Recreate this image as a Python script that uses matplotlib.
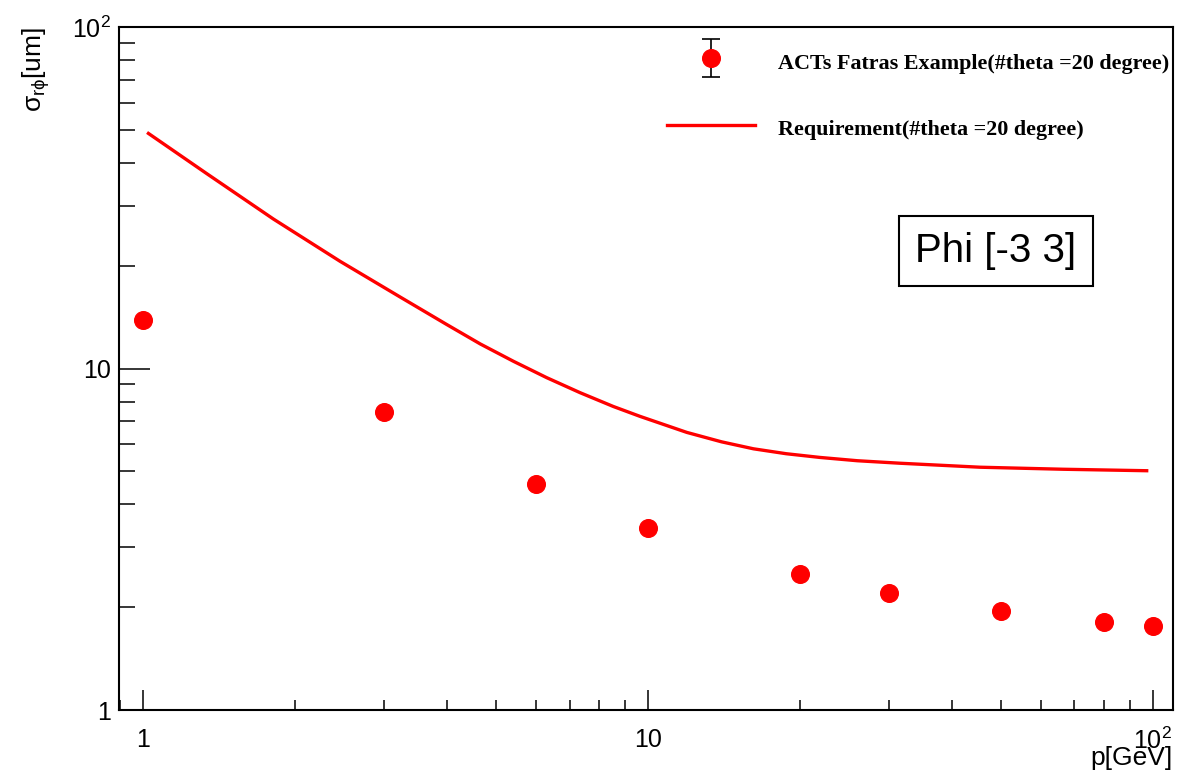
import matplotlib
matplotlib.use("Agg")
import matplotlib.pyplot as plt
from matplotlib.ticker import FixedLocator, NullFormatter
from matplotlib.legend_handler import HandlerErrorbar

plt.rcParams['font.family'] = ['Liberation Sans', 'DejaVu Sans']
plt.rcParams['mathtext.fontset'] = 'custom'
plt.rcParams['mathtext.rm'] = 'Liberation Sans'
plt.rcParams['mathtext.it'] = 'Liberation Sans'
plt.rcParams['mathtext.bf'] = 'Liberation Sans:bold'

# measured resolution vs momentum
p_meas = [1, 3, 6, 10, 20, 30, 50, 80, 100]
sigma_meas = [13.9, 7.44, 4.59, 3.42, 2.51, 2.20, 1.95, 1.81, 1.76]

# requirement curve, sampled
p_req = [1.026, 1.339, 1.814, 2.459, 3.232, 4.0, 4.66, 5.42, 6.31, 7.34,
         8.55, 9.66, 11.95, 14.0, 16.19, 18.8, 21.94, 26.0, 31.6, 45.5,
         66.5, 97.3]
sigma_req = [48.8, 37.2, 27.4, 20.6, 16.2, 13.45, 11.8, 10.5, 9.4, 8.5,
             7.74, 7.24, 6.5, 6.1, 5.82, 5.63, 5.49, 5.37, 5.28, 5.14,
             5.07, 5.02]

x_ticks = [1, 10, 100]
x_ticklabels = ['1', '10', '$10^{2}$']
y_ticks = [1, 10, 100]
y_ticklabels = ['1', '10', '$10^{2}$']

label_meas = 'ACTs Fatras Example(#theta =20 degree)'
label_req = 'Requirement(#theta =20 degree)'

fig = plt.figure(figsize=(11.79, 7.72), dpi=100)
ax = fig.add_axes([0.1009, 0.0803, 0.894, 0.8847])

ax.set_xscale('log')
ax.set_yscale('log')
ax.set_xlim(0.897, 109.7)
ax.set_ylim(1, 100)

line_req, = ax.plot(p_req, sigma_req, color='#ff0000', lw=2.4,
                    solid_joinstyle='round', label=label_req)
ax.plot(p_meas, sigma_meas, 'o', color='#ff0000', ms=12.7, mec='#ff0000', ls='none')

# legend-only handle carrying the error bar style
proxy = ax.errorbar([float('nan')], [float('nan')], yerr=[1.0], fmt='o',
                    color='#ff0000', ms=12.7, ecolor='black', elinewidth=1.2,
                    capsize=6.5, capthick=1.2, label=label_meas)

leg = ax.legend([proxy, line_req], [label_meas, label_req],
                loc='upper left', bbox_to_anchor=(0.52, 0.970),
                frameon=False, borderpad=0, borderaxespad=0,
                handlelength=4.0, handleheight=1.6, handletextpad=1.02,
                labelspacing=1.72,
                handler_map={proxy: HandlerErrorbar(yerr_size=0.86)},
                prop={'family': 'Liberation Serif', 'weight': 'bold', 'size': 15.9})

ax.text(0.832, 0.672, 'Phi [-3 3]', transform=ax.transAxes, fontsize=29,
        ha='center', va='center',
        bbox=dict(boxstyle='square,pad=0.4', fc='white', ec='black', lw=1.5))

ax.xaxis.set_major_locator(FixedLocator(x_ticks))
ax.set_xticklabels(x_ticklabels)
ax.yaxis.set_major_locator(FixedLocator(y_ticks))
ax.set_yticklabels(y_ticklabels)
ax.xaxis.set_minor_formatter(NullFormatter())
ax.yaxis.set_minor_formatter(NullFormatter())

ax.tick_params(axis='both', which='both', direction='in', top=False, right=False,
               labelsize=18, width=1.1, colors='black')
ax.tick_params(axis='x', which='major', length=14.4, pad=13)
ax.tick_params(axis='x', which='minor', length=7.2)
ax.tick_params(axis='y', which='major', length=22, pad=6)
ax.tick_params(axis='y', which='minor', length=11.5)

for s in ax.spines.values():
    s.set_linewidth(1.5)

ax.set_xlabel('p[GeV]', fontsize=19, loc='right', labelpad=-6)
ax.set_ylabel(r'$\sigma_{r\phi}$[um]', fontsize=19, loc='top', labelpad=14)

fig.savefig('out.png', dpi=100)
